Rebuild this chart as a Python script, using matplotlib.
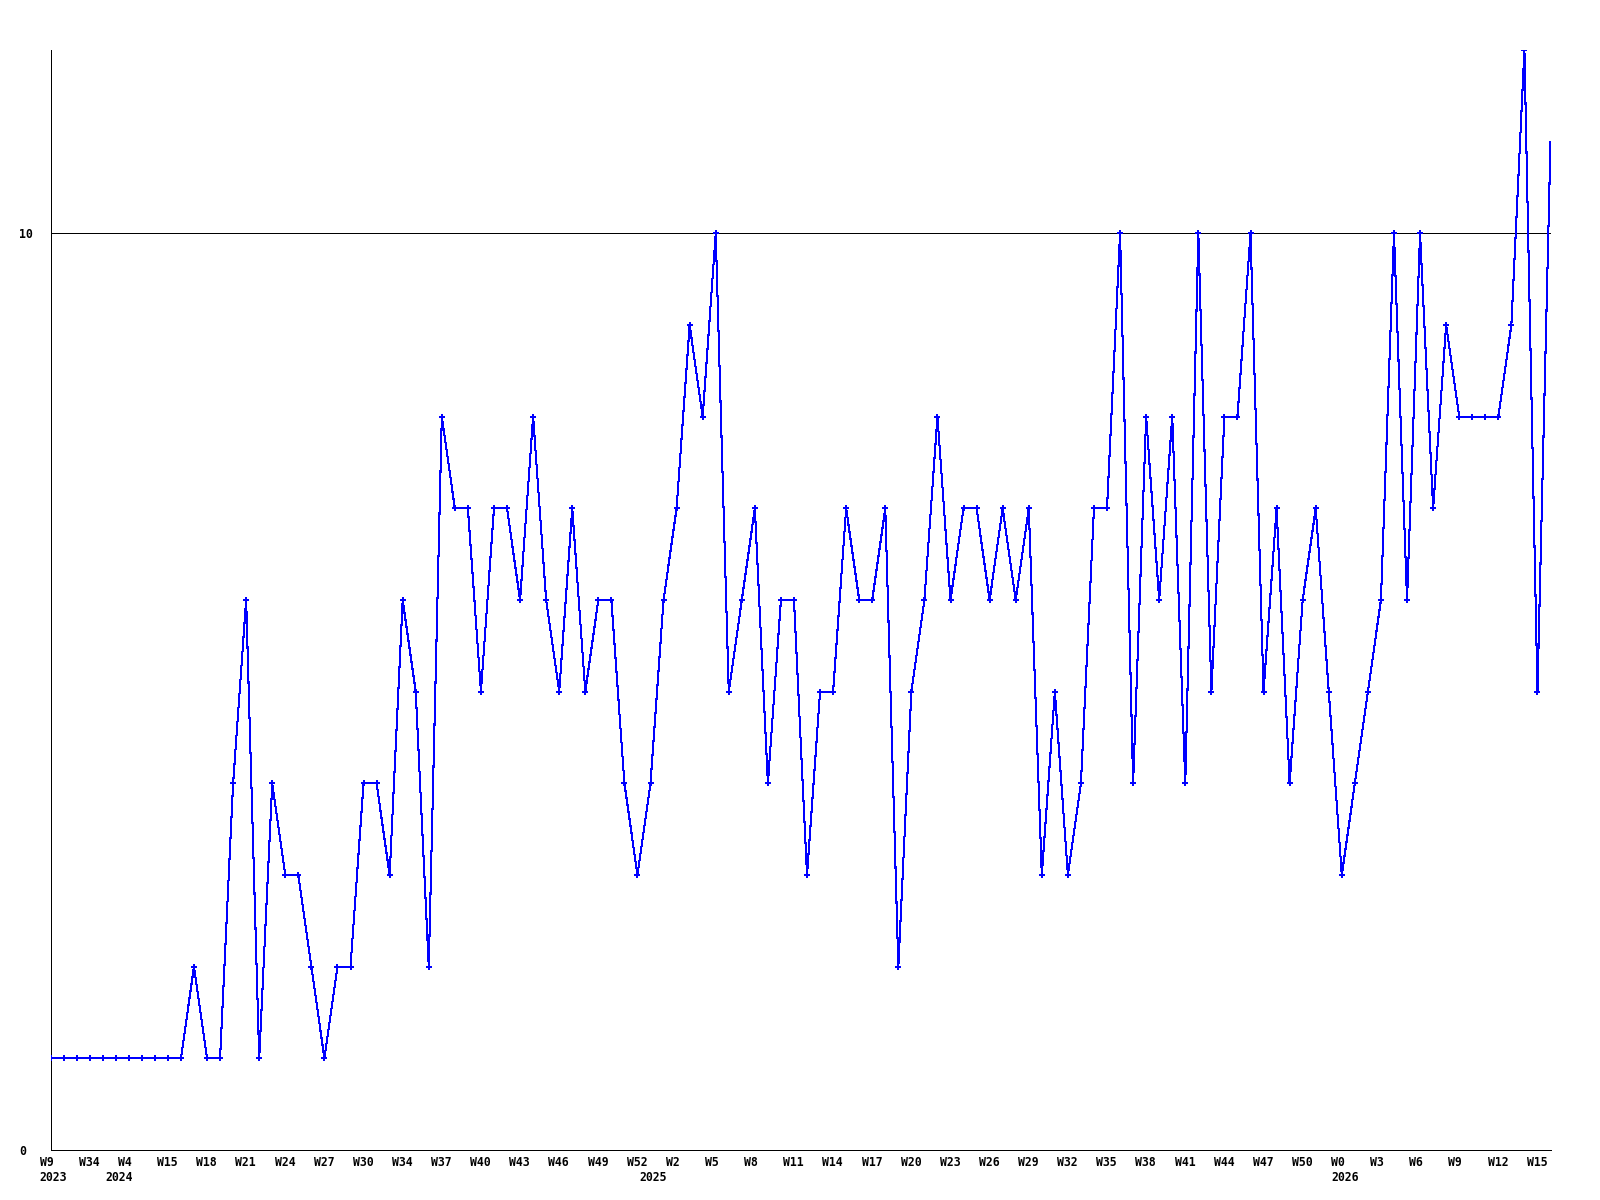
import matplotlib
matplotlib.use("Agg")
import matplotlib.pyplot as plt
import matplotlib.transforms as mtransforms

# ---- data ----
values = [1, 1, 1, 1, 1, 1, 1, 1, 1, 1, 1,
          2, 1, 1, 4, 6, 1, 4, 3, 3,
          2, 1, 2, 2, 4, 4, 3, 6, 5, 2,
          8, 7, 7, 5, 7, 7, 6, 8, 6, 5,
          7, 5, 6, 6, 4, 3, 4, 6, 7, 9,
          8, 10, 5, 6, 7, 4, 6, 6, 3, 5,
          5, 7, 6, 6, 7, 2, 5, 6, 8, 6,
          7, 7, 6, 7, 6, 7, 3, 5, 3, 4,
          7, 7, 10, 4, 8, 6, 8, 4, 10, 5,
          8, 8, 10, 5, 7, 4, 6, 7, 5, 3,
          4, 5, 6, 10, 6, 10, 7, 9, 8, 8,
          8, 8, 9, 12, 5, 11]
week_labels = ["W9", "W34", "W4", "W15", "W18", "W21", "W24", "W27", "W30",
               "W34", "W37", "W40", "W43", "W46", "W49", "W52", "W2", "W5",
               "W8", "W11", "W14", "W17", "W20", "W23", "W26", "W29", "W32",
               "W35", "W38", "W41", "W44", "W47", "W50", "W0", "W3", "W6",
               "W9", "W12", "W15"]
week_label_step = 3
year_labels = ["2023", "2024", "2025", "2026"]
year_positions = [0, 5, 46, 99]
y_ticks = [0, 10]
y_tick_labels = ["0", "10"]

x = list(range(len(values)))
week_positions = [i * week_label_step for i in range(len(week_labels))]

# ---- figure ----
fig = plt.figure(figsize=(16, 12), dpi=100)
ax = fig.add_axes([50.5 / 1600, 50 / 1200, 1500 / 1600, 1100 / 1200])

font = dict(family="DejaVu Sans Mono", weight="bold", size=8.3)

ax.plot(x, values, color="#0000ff", lw=0.75, marker="P", ms=4, mew=0,
        markevery=list(range(len(values) - 1)), antialiased=False,
        zorder=3, clip_on=True)

ax.set_xlim(0, len(values) - 1)
ax.set_ylim(0, 12)

for s in ("top", "right"):
    ax.spines[s].set_visible(False)
for s in ("left", "bottom"):
    ax.spines[s].set_color("black")
    ax.spines[s].set_linewidth(0.72)

ax.set_yticks(y_ticks)
ax.set_yticklabels(y_tick_labels, fontdict=font)
ax.yaxis.grid(True, color="black", linewidth=0.72)
ax.set_axisbelow(True)
ax.tick_params(axis="y", length=0, pad=31 * 0.72)
for lab in ax.get_yticklabels():
    lab.set_horizontalalignment("left")

ax.set_xticks(week_positions)
ax.set_xticklabels(week_labels, fontdict=font)
ax.tick_params(axis="x", length=0, pad=6 * 0.72)
off = mtransforms.ScaledTranslation(-10.7 / 100, 0, fig.dpi_scale_trans)
for lab in ax.get_xticklabels():
    lab.set_horizontalalignment("left")
    lab.set_transform(lab.get_transform() + off)

trans = mtransforms.blended_transform_factory(ax.transData, ax.transAxes) + \
    mtransforms.ScaledTranslation(-10.7 / 100, -21 / 100, fig.dpi_scale_trans)
for pos, yl in zip(year_positions, year_labels):
    ax.text(pos, 0, yl, transform=trans, ha="left", va="top", **font)

fig.savefig("out.png", dpi=100, facecolor="white")
